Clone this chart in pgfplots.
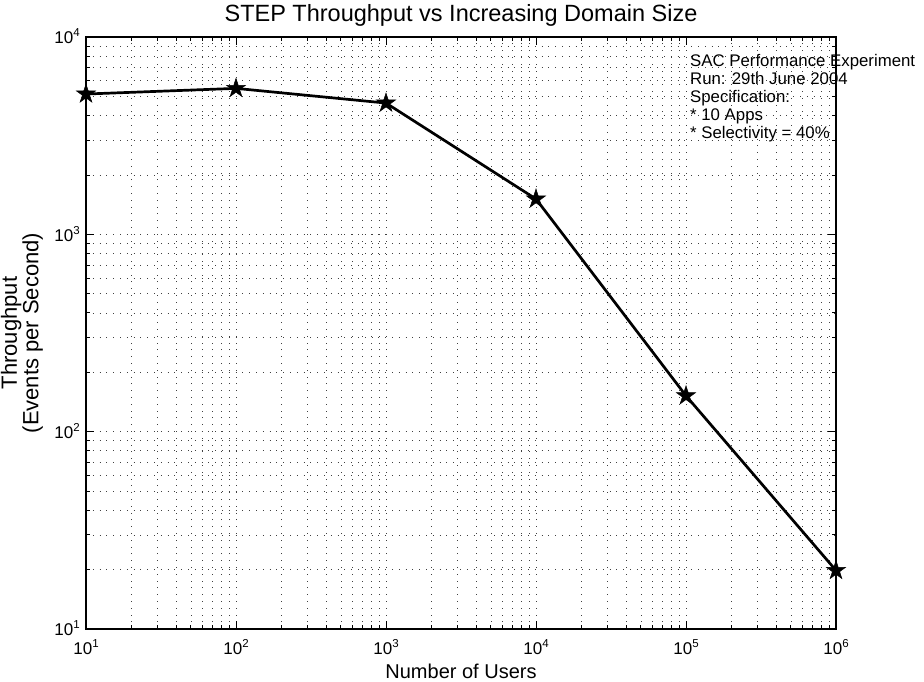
\documentclass[border=0pt]{standalone}
\usepackage{fontspec}
\setmainfont{Liberation Sans}
\usepackage{pgfplots}
\pgfplotsset{compat=1.18}
\pgfdeclareplotmark{fstar}{%
  \pgfpathmoveto{\pgfpointpolar{90}{\pgfplotmarksize}}%
  \pgfpathlineto{\pgfpointpolar{126}{0.382\pgfplotmarksize}}%
  \pgfpathlineto{\pgfpointpolar{162}{\pgfplotmarksize}}%
  \pgfpathlineto{\pgfpointpolar{198}{0.382\pgfplotmarksize}}%
  \pgfpathlineto{\pgfpointpolar{234}{\pgfplotmarksize}}%
  \pgfpathlineto{\pgfpointpolar{270}{0.382\pgfplotmarksize}}%
  \pgfpathlineto{\pgfpointpolar{306}{\pgfplotmarksize}}%
  \pgfpathlineto{\pgfpointpolar{342}{0.382\pgfplotmarksize}}%
  \pgfpathlineto{\pgfpointpolar{18}{\pgfplotmarksize}}%
  \pgfpathlineto{\pgfpointpolar{54}{0.382\pgfplotmarksize}}%
  \pgfpathclose
  \pgfusepathqfillstroke}
\newcommand\tl[1]{10\raisebox{0.42em}{\fontsize{11.5}{11.5}\selectfont #1}}
\begin{document}
\begin{tikzpicture}
\begin{axis}[
  scale only axis, width=750pt, height=592pt,
  xmode=log, ymode=log,
  xmin=10, xmax=1e6, ymin=10, ymax=1e4,
  xtick={10,100,1000,10000,100000,1000000},
  xticklabels={\tl{1},\tl{2},\tl{3},\tl{4},\tl{5},\tl{6}},
  ytick={10,100,1000,10000},
  yticklabels={\tl{1},\tl{2},\tl{3},\tl{4}},
  minor xtick={20,30,40,50,60,70,80,90,200,300,400,500,600,700,800,900,2000,3000,4000,5000,6000,7000,8000,9000,20000,30000,40000,50000,60000,70000,80000,90000,200000,300000,400000,500000,600000,700000,800000,900000},
  minor ytick={20,30,40,50,60,70,80,90,200,300,400,500,600,700,800,900,2000,3000,4000,5000,6000,7000,8000,9000},
  grid=both,
  major grid style={black!75, line width=0.6pt, dash pattern=on 0.8pt off 6pt},
  minor grid style={black!75, line width=0.6pt, dash pattern=on 0.8pt off 6pt},
  tick pos=both, tick align=inside,
  major tick length=8pt, minor tick length=4pt,
  major tick style={black, line width=0.8pt},
  minor tick style={black, line width=0.8pt},
  axis line style={line width=1.6pt},
  tick label style={font=\fontsize{17}{20}\selectfont, inner sep=0pt},
  xticklabel style={anchor=base, yshift=-26pt},
  yticklabel style={anchor=base east, xshift=-6pt, yshift=-7pt},
  title={STEP Throughput vs Increasing Domain Size},
  title style={font=\fontsize{23.5}{27}\selectfont, at={(axis description cs:0.5,1)}, anchor=base, yshift=9pt, inner sep=0pt},
  xlabel={Number of Users},
  xlabel style={font=\fontsize{20}{24}\selectfont, at={(axis description cs:0.5,0)}, anchor=base, yshift=-50pt, inner sep=0pt},
  ylabel={Throughput\\(Events per Second)},
  ylabel style={font=\fontsize{22}{18.5}\selectfont, align=center, at={(axis description cs:-0.0573,0.5)}, anchor=south, inner sep=0pt},
  clip=false,
]
\addplot[black, line width=2.7pt, mark=fstar, mark size=10pt, mark options={solid, fill=black, line width=0.5pt}] coordinates {
  (10,5140) (100,5490) (1000,4625) (10000,1510) (100000,152) (1000000,19.8)
};
\begin{scope}[every node/.style={anchor=base west, inner sep=0pt, font=\fontsize{16.8}{18}\selectfont}]
\node at (rel axis cs:0.8053,0.9498) {SAC Performance Experiment};
\node at (rel axis cs:0.8053,0.9196) {Run: 29th June 2004};
\node at (rel axis cs:0.8053,0.8893) {Specification:};
\node at (rel axis cs:0.8053,0.8591) {* 10 Apps};
\node at (rel axis cs:0.8053,0.8288) {* Selectivity = 40\%};
\end{scope}
\coordinate (bl) at (rel axis cs:0,0);
\end{axis}
\pgfresetboundingbox
\path (bl) ++(-86pt,-53pt) rectangle ++(924pt,682pt);
\end{tikzpicture}
\end{document}
